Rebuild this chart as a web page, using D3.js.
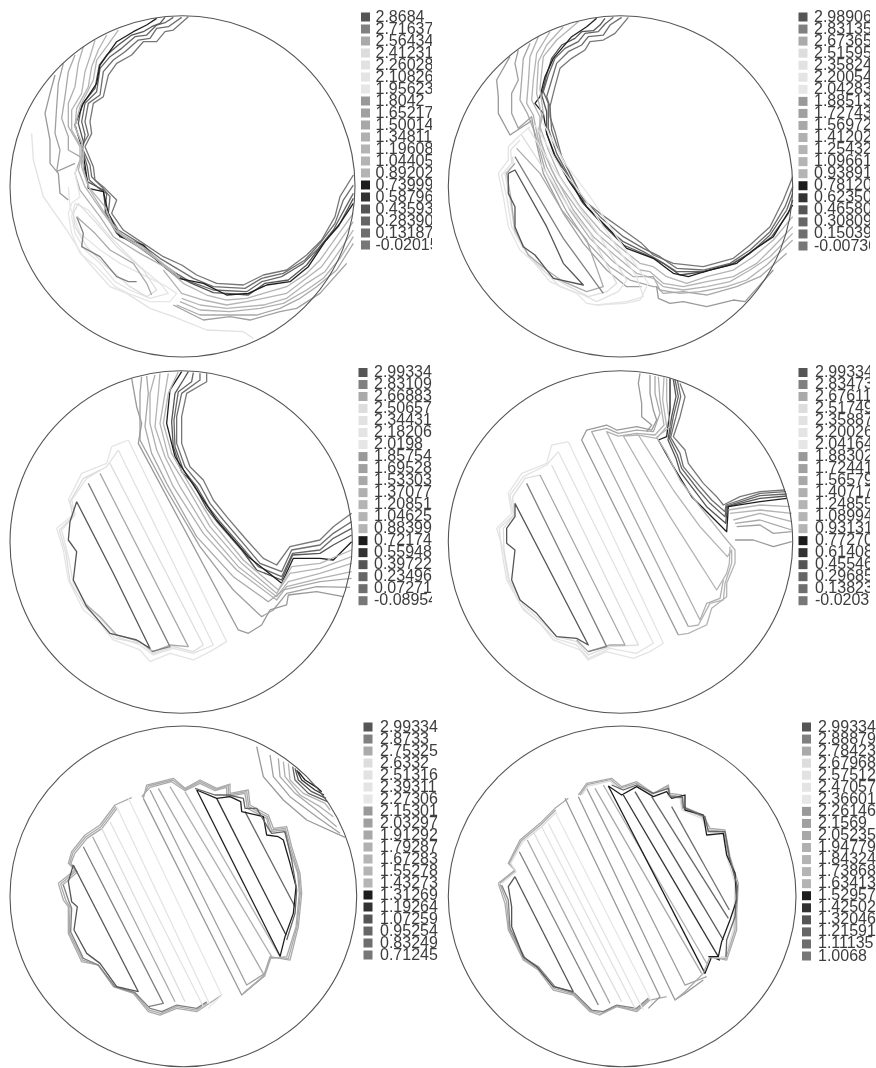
<!DOCTYPE html>
<html>
<head>
<meta charset="utf-8">
<script src="https://cdn.jsdelivr.net/npm/d3@7"></script>
<style>
    html, body { margin: 0; background: #fff; }
    svg { display: block; }
    text { font-family: "Liberation Sans", Arial, sans-serif; font-size: 16px; fill: #3c3c3c; }
</style>
</head>
<body>
<svg id="chart" width="876" height="1068"></svg>
<script>
// grey of each legend row, top to bottom
const levelGreys = ["#555", "#808080", "#aaa", "#ddd", "#e2e2e2", "#e4e4e4", "#e6e6e6", "#999", "#a0a0a0", "#a8a8a8", "#b0b0b0", "#b4b4b4", "#b4b4b4", "#b4b4b4", "#1e1e1e", "#333", "#555", "#666", "#6e6e6e", "#777"];

const labels1 = ["2.8684", "2.71637", "2.56434", "2.41231", "2.26028", "2.10826", "1.95623", "1.8042", "1.65217", "1.50014", "1.34811", "1.19608", "1.04405", "0.89202", "0.73999", "0.58796", "0.43593", "0.28390", "0.13187", "-0.02015"];
const labels2 = ["2.98906", "2.83135", "2.67365", "2.51595", "2.35824", "2.20054", "2.04283", "1.88513", "1.72743", "1.56972", "1.41202", "1.25432", "1.09661", "0.93891", "0.78120", "0.62350", "0.46580", "0.30809", "0.15039", "-0.00730"];
const labels3 = ["2.99334", "2.83109", "2.66883", "2.50657", "2.34431", "2.18206", "2.0198", "1.85754", "1.69528", "1.53303", "1.37077", "1.20851", "1.04625", "0.88399", "0.72174", "0.55948", "0.39722", "0.23496", "0.07271", "-0.08954"];
const labels4 = ["2.99334", "2.83473", "2.67611", "2.51749", "2.35887", "2.20026", "2.04164", "1.88302", "1.72441", "1.56579", "1.40717", "1.24855", "1.08994", "0.93131", "0.77270", "0.61408", "0.45546", "0.29685", "0.13823", "-0.02033"];
const labels5 = ["2.99334", "2.8733", "2.75325", "2.6332", "2.51316", "2.39311", "2.27306", "2.15301", "2.03297", "1.91292", "1.79287", "1.67283", "1.55278", "1.43273", "1.31269", "1.19264", "1.07259", "0.95254", "0.83249", "0.71245"];
const labels6 = ["2.99334", "2.88879", "2.78423", "2.67968", "2.57512", "2.47057", "2.36601", "2.26146", "2.1569", "2.05235", "1.94779", "1.84324", "1.73868", "1.63413", "1.52957", "1.42502", "1.32046", "1.21591", "1.11135", "1.0068"];

// contour lines: [legend row, x, y, x, y, ...]
const contours1 = [
    [19, 565,50, 520,90, 495,95, 470,125, 430,125, 395,165, 350,190, 325,225, 310,290, 280,310, 270,365, 275,400, 255,440, 280,500, 285,540, 315,565, 350,600, 335,640, 370,690, 430,730, 490,770, 545,795, 590,825, 650,850, 730,855, 790,825, 860,810, 920,765, 965,720, 1005,650, 1020,590, 1060,525],
    [18, 545,52, 505,80, 470,85, 450,115, 415,120, 375,155, 340,180, 310,215, 300,285, 265,310, 255,365, 265,405, 245,440, 270,495, 275,530, 305,560, 330,590, 325,640, 355,690, 420,730, 480,775, 530,805, 580,835, 640,860, 735,865, 785,835, 850,820, 915,780, 960,730, 1005,670, 1030,600, 1060,555],
    [17, 520,52, 495,68, 470,75, 440,105, 405,110, 365,145, 330,170, 300,205, 290,275, 255,310, 245,365, 255,405, 248,450, 262,500, 268,540, 300,568, 320,580, 315,640, 350,700, 415,740, 470,780, 520,815, 570,845, 640,870, 740,875, 785,845, 845,830, 910,790, 955,745, 1000,690, 1035,625, 1060,580],
    [16, 495,52, 480,70, 455,80, 430,95, 395,105, 355,135, 320,165, 298,195, 285,265, 245,315, 235,370, 250,425, 250,490, 262,545, 310,570, 318,640, 355,705, 425,735, 475,785, 525,825, 575,850, 640,878, 680,880, 745,885, 795,850, 865,840, 920,795, 965,735, 1015,680, 1060,595],
    [14, 470,55, 440,75, 400,95, 350,125, 300,195, 290,250, 250,310, 225,375, 245,440, 255,495, 265,565, 310,575, 325,640, 360,710, 430,735, 480,790, 535,835, 610,850, 680,885, 745,880, 800,855, 870,845, 925,800, 975,725, 1020,670, 1060,610],
    [7, 165,225, 150,280, 135,340, 150,420, 150,490, 175,520, 180,580, 205,600],
    [8, 190,190, 175,250, 170,320, 165,400, 180,450, 170,515, 225,490],
    [9, 225,165, 205,215, 195,290, 185,355, 205,410, 205,450, 240,470, 250,490],
    [10, 250,140, 235,190, 225,260, 205,310, 205,380, 240,440, 240,480, 225,520, 240,570, 300,650, 340,710, 420,760, 520,815],
    [11, 285,120, 270,170, 255,215, 245,280, 215,330, 215,390, 250,450, 235,510, 255,560, 310,640, 350,695, 430,750, 530,820],
    [12, 320,105, 295,150, 275,200, 265,260, 230,325, 225,380, 245,430, 245,500, 265,560, 315,620, 345,690, 435,745, 540,835],
    [13, 355,90, 320,140, 290,180, 280,240, 240,320, 225,380, 250,440, 250,510, 270,570, 320,650, 370,710, 450,760, 550,850, 620,885, 680,900, 740,895, 790,880, 860,860, 920,820, 960,780, 1010,710, 1060,640],
    [12, 490,810, 545,880, 610,900, 680,915, 740,905, 790,895, 860,880, 925,830, 965,800, 1015,730, 1060,665],
    [11, 545,895, 600,915, 680,925, 790,915, 860,895, 920,850, 975,815, 1020,750, 1060,690],
    [10, 540,905, 600,930, 690,935, 780,925, 850,910, 920,870, 970,835, 1020,775, 1060,710],
    [9, 530,915, 600,945, 680,945, 770,945, 840,925, 900,895, 950,860, 1010,810, 1060,730],
    [8, 520,915, 610,960, 690,950, 750,960, 840,935, 890,925, 960,880, 1040,790],
    [4, 95,400, 100,480, 130,590, 200,690, 250,770, 330,860, 380,880, 450,925, 520,950, 620,990, 730,995, 760,1015],
    [6, 205,560, 210,620, 240,700, 300,750, 360,790, 420,820, 500,860, 530,880, 510,905, 450,905, 385,880, 345,860, 290,800, 240,760, 215,700, 205,640, 215,610, 240,590, 225,520, 230,500],
    [5, 225,610, 265,630, 330,710, 420,800, 480,850, 505,880, 450,895, 390,870, 345,845, 300,790, 255,750, 225,700, 215,650, 225,610],
    [3, 235,610, 290,670, 350,740, 430,810, 470,870, 440,890, 390,860, 320,800, 260,740, 225,680, 220,640, 235,610],
    [1, 230,650, 250,700, 245,740, 300,770, 350,830, 385,845, 410,845],
    [2, 230,650, 285,700, 330,750, 400,790, 440,850, 455,885]
];

const contours2 = [
    [19, 565,52, 525,100, 490,120, 450,125, 435,150, 395,175, 360,205, 345,260, 330,320, 330,350, 345,395, 365,470, 395,530, 430,600, 480,640, 550,690, 605,730, 640,765, 700,790, 790,800, 880,775, 930,735, 990,680, 1030,600, 1058,530],
    [18, 545,52, 510,75, 490,105, 445,110, 425,135, 385,155, 350,190, 335,240, 320,290, 330,320, 335,390, 355,450, 385,510, 425,590, 480,650, 550,710, 610,745, 660,770, 710,805, 790,810, 870,790, 930,750, 990,695, 1035,620, 1058,560],
    [17, 520,52, 495,72, 475,95, 435,100, 415,125, 375,145, 345,175, 325,225, 310,275, 325,310, 325,385, 350,460, 385,525, 425,605, 480,665, 550,725, 610,755, 655,780, 710,815, 790,815, 870,795, 930,760, 990,705, 1040,630, 1058,580],
    [16, 495,55, 480,75, 460,92, 425,95, 405,115, 365,135, 335,175, 320,225, 305,285, 320,335, 320,400, 345,465, 385,530, 430,610, 490,675, 550,735, 620,765, 670,790, 720,825, 790,815, 880,790, 935,755, 995,710, 1045,640, 1058,600],
    [14, 470,55, 440,80, 395,110, 340,175, 315,230, 300,290, 285,310, 310,340, 320,400, 345,470, 385,540, 440,620, 500,680, 560,745, 640,775, 700,820, 745,830, 810,810, 890,790, 940,750, 1000,710, 1058,615],
    [13, 415,65, 350,120, 310,170, 300,265, 310,340, 300,380, 325,450, 360,530, 420,620, 480,690, 550,750, 600,790, 640,800, 680,830, 740,850, 800,830, 880,810, 940,770, 1000,720, 1058,650],
    [12, 370,80, 320,135, 295,185, 290,280, 305,345, 295,395, 315,465, 350,540, 410,625, 470,700, 545,765, 600,810, 630,815, 670,850, 730,860, 800,845, 880,830, 950,790, 1000,740, 1058,680],
    [11, 330,95, 290,160, 280,240, 275,300, 300,350, 300,420, 335,510, 400,630, 460,710, 530,770, 590,820, 640,835, 670,860, 730,870, 800,860, 870,845, 930,810, 990,770, 1058,700],
    [10, 295,110, 270,170, 265,250, 260,310, 280,345, 295,420, 320,500, 390,630, 450,715, 520,785, 580,830, 640,830, 660,870, 720,880, 780,875, 860,860, 920,840, 980,795, 1058,720],
    [9, 270,130, 250,175, 245,240, 240,300, 262,340, 285,400, 315,510, 380,635, 440,725, 510,800, 570,840, 640,860, 650,860, 670,880, 730,875, 800,885, 890,860, 960,830, 1040,760],
    [8, 235,150, 225,190, 235,240, 215,280, 215,340, 235,385, 275,350, 285,410, 310,520, 370,640, 430,730, 500,810, 560,860, 605,860],
    [7, 210,170, 170,240, 175,290, 175,340, 210,405, 275,362],
    [7, 650,860, 655,895, 690,910, 730,905, 800,920, 880,900, 915,905, 1000,810],
    [6, 310,370, 375,490, 450,590, 530,710, 625,850, 600,900, 555,910, 470,915],
    [5, 285,375, 360,500, 430,590, 510,710, 590,830, 610,890, 560,905, 470,915, 440,910, 410,880, 330,845, 280,785, 240,750, 205,680, 190,590, 175,520, 205,480, 205,440, 235,410, 270,380],
    [4, 265,385, 345,510, 410,610, 480,710, 560,840, 535,875, 470,905, 430,885, 360,860, 300,800, 250,745, 215,680, 200,590, 185,525, 215,490, 212,450, 240,420],
    [3, 245,405, 320,520, 385,620, 450,700, 530,850, 500,875, 445,890, 370,850, 320,820, 270,775, 225,700, 210,600, 195,520, 220,495, 218,470],
    [2, 230,445, 300,520, 365,630, 440,720, 490,860, 440,875, 370,845, 320,810, 265,765, 225,690, 212,590, 200,520, 225,490],
    [1, 225,470, 370,715, 490,880],
    [0, 205,520, 205,580, 225,620, 225,680, 250,740, 285,765, 340,835, 430,855, 370,790, 320,680, 225,510, 205,520]
];

const contours3 = [
    [19, 620,70, 620,95, 560,130, 545,200, 545,280, 570,350, 610,390, 640,450, 680,500, 740,570, 790,625, 830,645, 870,590, 960,570, 1000,530, 1055,490],
    [18, 600,70, 600,90, 545,130, 530,200, 530,280, 555,350, 600,405, 630,460, 670,510, 730,580, 780,640, 845,665, 875,600, 960,585, 1000,550, 1055,515],
    [17, 580,68, 575,95, 535,125, 522,210, 525,290, 550,360, 590,410, 625,470, 660,515, 725,590, 775,650, 845,680, 878,610, 960,600, 1000,565, 1055,535],
    [16, 565,65, 550,90, 525,130, 515,215, 520,290, 545,365, 580,400, 620,475, 655,520, 725,600, 770,660, 845,690, 878,615, 960,610, 1000,585, 1055,555],
    [14, 545,65, 510,120, 500,220, 525,320, 570,390, 650,510, 745,620, 845,700, 880,625, 960,625, 1000,630, 1055,575],
    [13, 535,65, 505,130, 490,220, 515,310, 560,390, 640,520, 730,630, 835,720, 875,650, 960,640, 1055,600],
    [12, 505,70, 495,130, 480,220, 505,320, 555,400, 630,530, 725,640, 830,730, 870,670, 960,655, 1055,620],
    [11, 480,70, 475,130, 465,230, 495,320, 540,410, 620,540, 715,650, 830,740, 865,695, 960,670, 1055,640],
    [10, 465,75, 450,130, 450,220, 470,300, 520,410, 610,550, 710,660, 830,750, 860,710, 960,685, 1055,665],
    [9, 440,78, 445,130, 435,230, 455,310, 500,400, 590,560, 700,680, 805,755, 850,720, 960,695, 1055,685],
    [8, 425,80, 420,130, 420,270, 500,420, 600,590, 700,720, 785,800, 820,780, 860,730, 950,710, 1050,712],
    [7, 395,85, 410,170, 425,220, 415,280, 715,840, 745,850, 785,825, 810,780, 860,765, 865,735, 950,725, 1030,740],
    [5, 385,270, 335,290, 320,340, 245,370, 205,450, 225,490, 170,535, 190,600, 205,690, 250,780, 300,820, 340,870, 420,900, 450,935, 510,910, 580,930, 630,905, 680,875, 385,270],
    [4, 355,300, 640,885, 580,910, 520,895, 460,915, 420,885, 350,860, 300,805, 265,770, 220,700, 205,620, 185,540, 225,495, 215,450, 260,385, 320,350, 355,300],
    [3, 330,340, 610,885, 580,905, 520,890, 460,910, 425,880, 345,865, 295,810, 255,770, 210,695, 198,610, 178,540, 218,500, 210,455, 250,385, 300,360],
    [2, 300,370, 565,890, 510,885, 460,905, 420,875, 350,855, 300,800, 260,765],
    [1, 265,400, 510,890, 455,905],
    [0, 230,455, 340,670, 450,895, 410,870, 330,850, 260,770, 220,690, 230,605, 205,570, 210,515, 230,455]
];

const contours4 = [
    [19, 720,100, 735,140, 720,200, 700,260, 735,300, 745,340, 790,400, 830,440, 850,465, 900,440, 960,425, 1035,420],
    [18, 712,90, 722,140, 708,200, 692,262, 720,310, 730,350, 780,410, 815,450, 855,485, 858,465, 960,430, 1038,425],
    [17, 705,88, 715,140, 700,200, 688,265, 712,315, 725,355, 775,420, 810,460, 855,500, 860,468, 960,437, 1040,432],
    [16, 700,88, 708,140, 695,200, 684,270, 708,325, 720,365, 770,430, 800,470, 857,520, 862,470, 960,445, 1040,438],
    [14, 690,85, 690,180, 680,260, 655,270, 700,350, 755,440, 860,545, 865,470, 960,455, 1040,445],
    [13, 680,85, 680,150, 690,230, 650,262, 680,310, 720,390, 780,470, 860,570, 885,600, 885,640, 860,700, 860,740, 815,775, 800,825, 745,850, 715,855],
    [12, 595,255, 700,420, 780,530, 862,620, 875,600, 875,640, 855,700, 850,750, 810,760, 775,825, 745,830],
    [11, 672,82, 668,150, 680,230, 650,265, 595,255, 550,258, 690,500, 830,720, 860,670, 868,640, 870,590],
    [10, 655,80, 660,150, 672,225, 645,255, 590,250, 535,258, 500,245, 640,530, 780,810, 800,760, 840,745, 850,690],
    [9, 645,78, 645,130, 660,190, 640,245, 590,240, 535,250, 500,235, 455,245, 745,830],
    [7, 630,75, 630,130, 640,180, 650,210, 635,240, 590,230, 530,240, 500,225, 440,240, 425,270, 715,855],
    [7, 600,70, 595,100, 605,160, 605,200, 635,225, 620,245],
    [12, 865,480, 960,465, 1050,470],
    [11, 870,490, 960,480, 1055,490],
    [10, 880,510, 960,490, 1055,515],
    [9, 885,520, 960,510, 1055,540],
    [8, 890,530, 960,525, 1000,550, 1055,545],
    [7, 885,570, 940,570, 1000,590, 1055,575],
    [5, 385,275, 335,285, 320,340, 245,370, 205,430, 215,490, 170,535, 190,600, 205,690, 250,780, 300,820, 340,870, 420,900, 445,930, 500,905, 580,925, 630,905, 670,880, 385,275],
    [4, 355,305, 640,880, 590,910, 510,895, 445,925, 410,885, 345,865, 295,815, 245,770, 200,690, 185,600, 178,535, 220,495, 210,435, 250,380, 320,345, 355,305],
    [3, 335,345, 595,885, 510,890, 445,915, 410,875, 350,860, 300,810, 250,765, 208,690, 192,600, 190,535, 222,495, 218,440, 255,385, 300,375],
    [2, 300,375, 555,885, 510,885, 445,905, 410,870],
    [1, 260,400, 500,890, 445,905],
    [0, 225,460, 445,885, 410,865, 350,860, 290,790, 240,750, 215,690, 225,600, 200,580, 200,535, 225,500, 225,460]
];

const contours5 = [
    [7, 770,140, 790,230, 850,300, 920,360, 1035,412],
    [8, 810,165, 820,230, 870,290, 950,350, 1020,400],
    [9, 835,175, 840,230, 885,280, 950,330, 1010,380],
    [10, 850,185, 855,230, 900,285, 960,320, 1000,350],
    [11, 865,190, 870,240, 910,280, 975,310, 990,330],
    [17, 878,200, 885,240, 925,280, 982,305],
    [16, 885,205, 895,240, 935,275, 978,295],
    [15, 890,210, 905,240, 945,270, 972,285],
    [14, 895,215, 915,240, 950,262, 965,275],
    [2, 175,550, 225,510, 205,490, 215,455, 255,405, 300,375, 345,315, 395,293],
    [2, 181,553, 228,513, 209,490, 219,458, 258,410, 303,380, 348,320],
    [2, 187,556, 232,516, 213,490, 224,461, 261,415, 306,385, 351,325],
    [2, 175,550, 190,600, 205,620, 205,700, 245,785, 295,795, 340,860, 400,880, 445,935, 480,945, 530,925, 590,935, 625,912, 665,885],
    [2, 182,553, 197,600, 210,622, 208,698, 248,780, 295,795, 342,860, 402,878, 447,930, 482,940, 530,920, 590,930, 622,908],
    [1, 190,555, 205,600, 215,625, 212,695, 250,775, 295,795, 345,860, 405,878, 450,925, 485,935, 530,915, 590,925, 620,905],
    [0, 220,495, 205,545, 215,605, 232,620, 222,690, 260,760, 300,790, 350,860, 415,875],
    [0, 220,495, 415,875],
    [1, 250,440, 490,910, 445,920],
    [2, 278,410, 525,905],
    [3, 305,385, 555,905],
    [4, 330,365, 610,920],
    [5, 350,320, 630,915],
    [6, 385,295, 665,885, 625,925],
    [7, 430,295, 725,885, 790,830],
    [8, 450,270, 740,855, 795,820],
    [9, 475,265, 795,830],
    [10, 510,260, 815,770],
    [13, 555,275, 840,770],
    [14, 590,270, 840,768],
    [15, 650,295, 858,705],
    [17, 735,335, 885,620],
    [2, 430,295, 440,255, 520,235, 555,265, 600,240, 650,265, 690,252, 690,280, 745,270, 750,315, 805,345, 820,385, 860,380, 875,440, 900,520, 905,580, 895,680, 870,780, 810,770, 790,830, 730,880],
    [2, 428,292, 445,258, 518,240, 555,268, 600,245, 648,268, 685,256, 685,285, 740,275, 746,320, 802,350, 815,390, 856,385, 871,442, 896,520, 901,580, 891,680, 865,775, 811,772, 792,828, 732,878],
    [2, 425,290, 450,262, 515,245, 555,272, 600,250, 645,272, 680,262, 680,290, 735,280, 742,325, 800,355, 810,395, 852,390, 868,445, 893,520, 898,580, 888,680, 860,770, 812,775, 795,825, 735,875],
    [14, 590,270, 650,295, 690,290, 722,305, 725,335, 790,350, 800,405, 835,410, 850,420, 870,490, 888,560, 880,640, 855,710, 840,770],
    [17, 585,265, 645,285, 685,285, 730,295, 735,325, 770,325, 805,385, 815,400, 855,395, 875,480, 890,570, 885,640, 860,720]
];

const contours6 = [
    [2, 175,550, 225,510, 205,490, 240,420, 300,370, 345,325, 385,295],
    [2, 180,550, 226,512, 208,490, 244,422, 302,375, 347,330],
    [3, 185,550, 228,515, 212,490, 248,425, 305,380, 350,335],
    [2, 175,550, 195,610, 205,690, 250,780, 295,810, 340,870, 400,885, 450,935, 480,945, 530,920, 590,935, 630,900, 680,890],
    [2, 180,552, 200,605, 207,688, 252,778, 295,805, 342,865, 402,882, 452,932, 485,940, 530,918, 590,930, 628,898],
    [1, 185,555, 205,600, 210,685, 255,775, 295,800, 345,860, 405,880, 455,930, 490,935, 530,915, 590,925, 625,895],
    [0, 225,530, 205,560, 215,620, 215,680, 250,770, 290,800, 340,860, 400,875],
    [0, 225,530, 400,875],
    [1, 238,455, 475,915],
    [2, 262,420, 510,910],
    [3, 280,395, 545,905],
    [4, 305,380, 585,925],
    [5, 325,370, 610,930],
    [6, 345,335, 635,905],
    [7, 375,295, 660,890, 625,925],
    [7, 415,290, 705,900, 735,880, 790,840],
    [8, 440,265, 735,855, 800,830],
    [9, 465,265, 785,820],
    [10, 490,255, 800,790],
    [14, 505,258, 795,820, 815,770, 840,780],
    [15, 550,285, 835,770],
    [16, 585,275, 850,720],
    [17, 635,290, 865,655],
    [18, 695,320, 868,630],
    [2, 415,285, 440,250, 515,235, 545,260, 590,245, 640,280, 685,255, 690,280, 725,285, 730,320, 790,345, 810,385, 855,390, 870,470, 895,550, 890,640, 890,690, 860,780, 810,770, 790,820, 735,875, 705,900],
    [2, 420,285, 442,254, 512,239, 542,264, 590,250, 637,282, 682,260, 687,285, 722,290, 727,325, 787,350, 806,390, 851,394, 866,472, 890,550, 886,640, 885,690, 857,775, 812,772],
    [3, 425,285, 445,258, 510,243, 540,268, 590,255, 635,285, 680,265, 685,290, 720,295, 725,330, 785,355, 802,395, 848,398, 862,475, 885,550, 882,640, 880,690, 855,770, 815,775],
    [14, 505,258, 545,285, 590,260, 640,290, 680,275, 695,295, 735,285, 735,330, 790,345, 800,405, 850,400, 860,465, 885,520, 890,600, 870,660, 845,725, 835,770, 805,770],
    [17, 515,255, 550,270, 590,255, 640,280, 685,265, 690,290, 728,292, 730,322, 795,350, 805,395, 855,395, 868,470, 892,560, 885,650, 860,720, 858,770]
];

// placed by hand to sit where each circle of the figure sits
const layout = [
    { xd: [30, 1065], yd: [47, 1071], xr: [10, 355], yr: [15.7, 357], swatchX: 361, textX: 375.5, legendY: [17, 245], clipX: 432 },
    { xd: [25, 1058], yd: [47, 1071], xr: [448.3, 792.7], yr: [15.7, 357], swatchX: 798.5, textX: 814, legendY: [17, 246], clipX: 870 },
    { xd: [30, 1057], yd: [62, 1090], xr: [10, 352.3], yr: [370.7, 713.3], swatchX: 358.5, textX: 374, legendY: [372.5, 600.7], clipX: 432 },
    { xd: [25, 1058], yd: [62, 1090], xr: [448.3, 792.7], yr: [370.7, 713.3], swatchX: 798.5, textX: 815, legendY: [372.5, 600.7], clipX: 870 },
    { xd: [30, 1070], yd: [78, 1100], xr: [10, 356.7], yr: [726, 1066.7], swatchX: 363.5, textX: 380, legendY: [727, 955], clipX: 438 },
    { xd: [25, 1068], yd: [78, 1100], xr: [448.3, 796], yr: [726, 1066.7], swatchX: 802, textX: 818, legendY: [727, 956], clipX: 876 }
];

const allContours = [contours1, contours2, contours3, contours4, contours5, contours6];
const allLabels = [labels1, labels2, labels3, labels4, labels5, labels6];

const svg = d3.select("#chart");

// the reference is a soft scan, a small blur gets closer to it than crisp lines
svg.append("defs")
    .append("filter")
    .attr("id", "soft")
    .attr("filterUnits", "userSpaceOnUse")
    .attr("x", 0)
    .attr("y", 0)
    .attr("width", 876)
    .attr("height", 1068)
    .append("feGaussianBlur")
    .attr("stdDeviation", 0.45);

const root = svg.append("g").attr("filter", "url(#soft)");

layout.forEach((p, i) => {
    const x = d3.scaleLinear().domain(p.xd).range(p.xr);
    const y = d3.scaleLinear().domain(p.yd).range(p.yr);
    const rowY = d3.scalePoint().domain(allLabels[i]).range(p.legendY);
    const panel = root.append("g").attr("class", "panel");

    const lines = allContours[i].map((c) => ({
        level: c[0],
        points: d3.range(1, c.length, 2).map((k) => [c[k], c[k + 1]]),
    }));

    const line = d3.line().x((d) => x(d[0])).y((d) => y(d[1]));

    panel.selectAll(".contour")
        .data(lines)
        .enter()
        .append("path")
        .attr("class", "contour")
        .attr("d", (d) => line(d.points))
        .attr("fill", "none")
        .attr("stroke", (d) => levelGreys[d.level])
        .attr("stroke-width", 1.3)
        .attr("stroke-linejoin", "round");

    panel.append("ellipse")
        .attr("cx", (p.xr[0] + p.xr[1]) / 2)
        .attr("cy", (p.yr[0] + p.yr[1]) / 2)
        .attr("rx", (p.xr[1] - p.xr[0]) / 2)
        .attr("ry", (p.yr[1] - p.yr[0]) / 2)
        .attr("fill", "none")
        .attr("stroke", "#555")
        .attr("stroke-width", 1.1);

    svg.append("clipPath")
        .attr("id", "legend-clip-" + i)
        .append("rect")
        .attr("x", p.swatchX - 2)
        .attr("y", p.legendY[0] - 14)
        .attr("width", p.clipX - p.swatchX + 2)
        .attr("height", p.legendY[1] - p.legendY[0] + 30);

    const legend = panel.append("g").attr("clip-path", `url(#legend-clip-${i})`);

    legend.selectAll("rect")
        .data(allLabels[i])
        .enter()
        .append("rect")
        .attr("x", p.swatchX)
        .attr("y", (d) => rowY(d) - 4.5)
        .attr("width", 9)
        .attr("height", 9)
        .attr("fill", (d, k) => levelGreys[k]);

    legend.selectAll("text")
        .data(allLabels[i])
        .enter()
        .append("text")
        .attr("x", p.textX)
        .attr("y", (d) => rowY(d) + 4.5)
        .text((d) => d);
});
</script>
</body>
</html>
